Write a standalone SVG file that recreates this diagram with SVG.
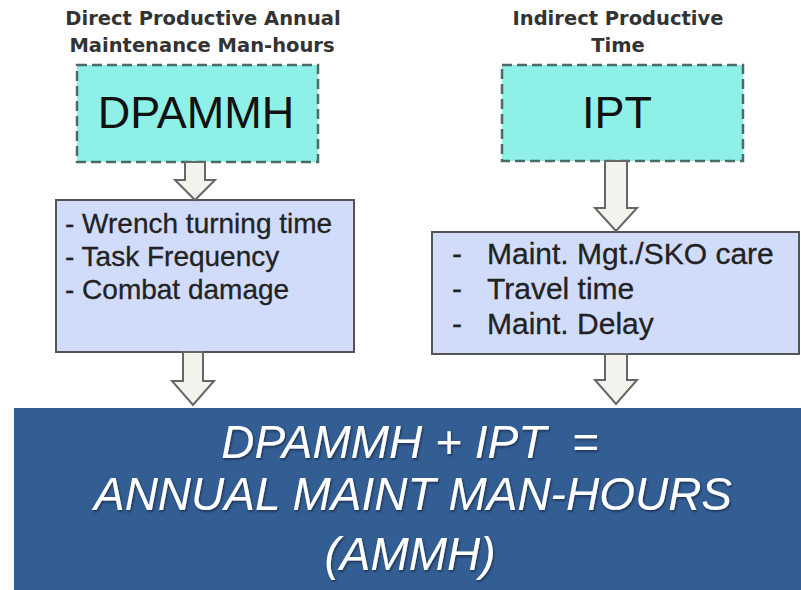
<svg xmlns="http://www.w3.org/2000/svg" width="801" height="590" viewBox="0 0 801 590">
<style>
.title{font-family:"DejaVu Sans",sans-serif;font-weight:bold;font-size:19.5px;fill:#333;text-anchor:middle}
.abbr{font-family:"Liberation Sans",Arial,sans-serif;font-size:45px;fill:#111;text-anchor:middle}
.code{fill:#8ef0e6;stroke:#4d6b66;stroke-width:2.5;stroke-dasharray:10 5}
.list{fill:#d0dcfa;stroke:#555;stroke-width:2}
.item{font-family:"Liberation Sans",Arial,sans-serif;fill:#222;stroke:#222;stroke-width:0.3}
.sum{fill:#335e93}
.res{font-family:"Liberation Sans",Arial,sans-serif;font-style:italic;font-size:46px;fill:#fff;text-anchor:middle}
.arrow{fill:#f3f3ee;stroke:#666;stroke-width:2;stroke-linejoin:miter}
</style>
<defs>
<filter id="sh" x="-5%" y="-20%" width="110%" height="140%">
<feDropShadow dx="1" dy="1.5" stdDeviation="1" flood-color="#0a1a30" flood-opacity="0.7"/>
</filter>
</defs>
<rect width="801" height="590" fill="#fff"/>

<g id="dpammh">
<text class="title" x="203" y="25">Direct Productive Annual</text>
<text class="title" x="202" y="52">Maintenance Man-hours</text>
<rect class="code" x="77" y="65" width="241" height="97"/>
<text class="abbr" x="196" y="128">DPAMMH</text>
</g>

<g id="ipt">
<text class="title" x="618" y="25">Indirect Productive</text>
<text class="title" x="618" y="52">Time</text>
<rect class="code" x="502" y="65" width="241" height="96"/>
<text class="abbr" x="617" y="128">IPT</text>
</g>

<g id="dp-factors">
<rect class="list" x="56" y="200" width="298" height="152"/>
<text class="item" font-size="28" x="65" y="233">- Wrench turning time</text>
<text class="item" font-size="28" x="65" y="266">- Task Frequency</text>
<text class="item" font-size="28" x="65" y="299">- Combat damage</text>
</g>

<g id="ip-factors">
<rect class="list" x="432" y="232" width="367" height="122"/>
<text class="item" font-size="30" x="452" y="264">-</text>
<text class="item" font-size="30" x="487" y="264">Maint. Mgt./SKO care</text>
<text class="item" font-size="30" x="452" y="299">-</text>
<text class="item" font-size="30" x="487" y="299">Travel time</text>
<text class="item" font-size="30" x="452" y="334">-</text>
<text class="item" font-size="30" x="487" y="334">Maint. Delay</text>
</g>

<g id="ammh">
<rect class="sum" x="14" y="408" width="790" height="185"/>
<g filter="url(#sh)">
<text class="res" x="410" y="458" xml:space="preserve">DPAMMH + IPT  =</text>
<text class="res" x="413" y="510">ANNUAL MAINT MAN-HOURS</text>
<text class="res" x="410" y="570">(AMMH)</text>
</g>
</g>

<g id="connectors">
<path class="arrow" d="M185 162 V180 H175 L195 200 L215 180 H205 V162 Z"/>
<path class="arrow" d="M183 352 V381 H172 L193 405 L214 381 H203 V352 Z"/>
<path class="arrow" d="M605 161 V208 H595 L616 231 L637 208 H627 V161 Z"/>
<path class="arrow" d="M605 354 V380 H595 L616 404 L637 380 H627 V354 Z"/>
</g>
</svg>
